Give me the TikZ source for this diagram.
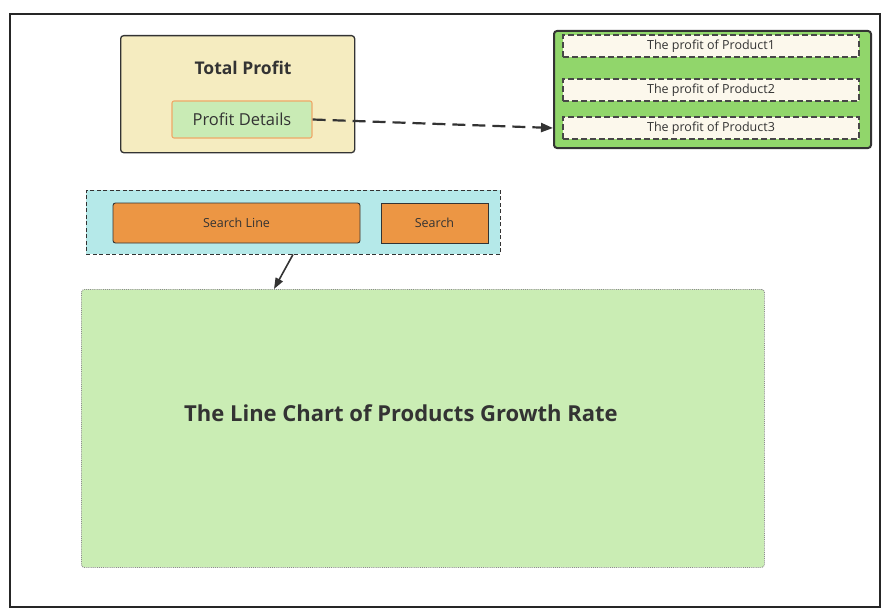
\documentclass[tikz,border=0pt]{standalone}
\usepackage{fontspec}
\setmainfont{Open Sans}
\usetikzlibrary{arrows.meta}
\definecolor{txt}{HTML}{333333}
\definecolor{yel}{HTML}{F5ECC0}
\definecolor{lgreen}{HTML}{C9EBB5}
\definecolor{ora}{HTML}{F0A868}
\definecolor{dgreen}{HTML}{91D66B}
\definecolor{cream}{HTML}{FCF8EC}
\definecolor{cyan}{HTML}{B5E9E9}
\definecolor{orfill}{HTML}{EC9644}
\definecolor{chart}{HTML}{CAEDB4}
\tikzset{
  box/.style={draw=txt, line width=1.3pt, rounded corners=3pt},
  prod/.style={draw=txt!90, dash pattern=on 6pt off 3pt, line width=1.3pt, fill=cream, minimum width=296pt, minimum height=22pt, inner sep=0pt, font=\fontsize{12.5}{14}\selectfont, text=txt},
  btn/.style={draw=txt, line width=0.9pt, fill=orfill, inner sep=0pt, font=\fontsize{12.5}{14}\selectfont, text=txt},
  conn/.style={draw=txt, line width=2.2pt}
}
\begin{document}
\begin{tikzpicture}[x=1pt,y=-1pt]
\useasboundingbox (0,0) rectangle (885,615);
\draw[line width=1.3pt, draw=black!85] (10,14) rectangle (880,607);
% Total profit
\node[box, fill=yel, minimum width=234pt, minimum height=117pt, anchor=north west] (total) at (120,35) {};
\node[font=\fontsize{17.5}{20}\selectfont\bfseries, text=txt] (totallbl) at (243,68) {Total Profit};
\node[draw=ora, line width=1.1pt, fill=lgreen, rounded corners=2pt, minimum width=140pt, minimum height=37pt, inner sep=0pt, font=\fontsize{16.5}{19}\selectfont, text=txt] (details) at (242,119.5) {Profit Details};
% Green container
\node[box, line width=2pt, fill=dgreen, minimum width=317pt, minimum height=117pt, anchor=north west] (group) at (553,30) {};
\node[prod] (p1) at (711,46) {The profit of Product1};
\node[prod] (p2) at (711,90) {The profit of Product2};
\node[prod] (p3) at (711,128) {The profit of Product3};
\draw[conn, dash pattern=on 13pt off 7pt, -{Triangle[length=12pt,width=9pt]}] (details.east) -- (group.west |- 0,128);
% Search
\node[draw=txt, dash pattern=on 4pt off 2.5pt, line width=0.9pt, fill=cyan, minimum width=414pt, minimum height=64pt, anchor=north west] (search) at (86,190) {};
\node[btn, rounded corners=2.5pt, minimum width=247pt, minimum height=40pt] (sline) at (236.5,223) {Search Line};
\node[btn, minimum width=107pt, minimum height=40pt] (sbtn) at (434.5,223) {Search};
% Chart
\node[draw=black!45, densely dotted, line width=0.9pt, fill=chart, rounded corners=3pt, minimum width=683pt, minimum height=278pt, anchor=north west] (chartbox) at (81,289) {};
\node[font=\fontsize{22}{26}\selectfont\bfseries, text=txt] (chartlbl) at (401,413) {The Line Chart of Products Growth Rate};
\draw[conn, line width=1.6pt, -{Triangle[length=11pt,width=8pt]}] (293,254.5) -- (chartbox.north west -| 274,0);
\end{tikzpicture}
\end{document}
